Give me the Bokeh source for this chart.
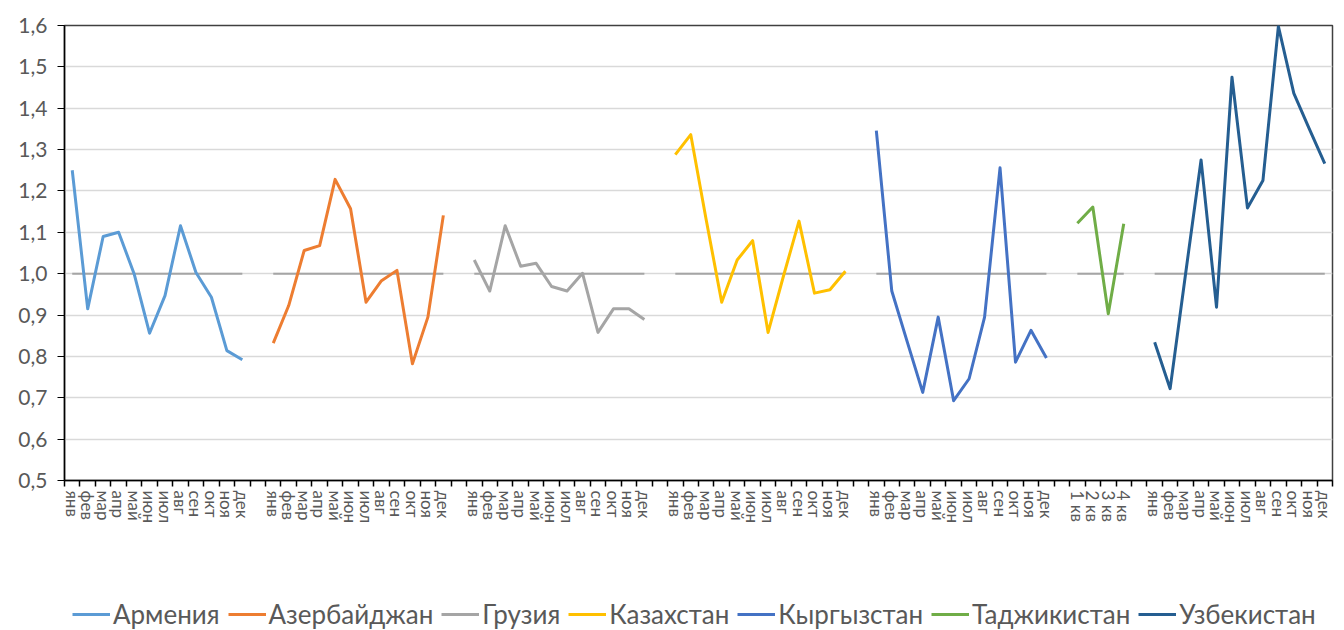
from bokeh.plotting import figure
from bokeh.layouts import column
from bokeh.models import (FixedTicker, CustomJSTickFormatter, Legend, LegendItem,
                          Range1d, ColumnDataSource)
from bokeh.embed import file_html
from bokeh.resources import INLINE

months = ["янв", "фев", "мар", "апр", "май", "июн", "июл", "авг", "сен", "окт", "ноя", "дек"]
quarters = ["1 кв", "2 кв", "3 кв", "4 кв"]

countries = ["Армения", "Азербайджан", "Грузия", "Казахстан", "Кыргызстан", "Таджикистан", "Узбекистан"]
colors = ["#5B9BD5", "#ED7D31", "#A5A5A5", "#FFC000", "#4472C4", "#70AD47", "#255E91"]

armenia = [1.25, 0.915, 1.09, 1.10, 1.00, 0.856, 0.947, 1.116, 1.003, 0.943, 0.814, 0.792]
azerbaijan = [0.832, 0.923, 1.056, 1.068, 1.228, 1.157, 0.931, 0.983, 1.008, 0.782, 0.895, 1.141]
georgia = [1.033, 0.958, 1.116, 1.018, 1.025, 0.969, 0.958, 1.001, 0.858, 0.915, 0.915, 0.889]
kazakhstan = [1.288, 1.336, 1.13, 0.931, 1.033, 1.08, 0.858, 0.995, 1.127, 0.953, 0.961, 1.006]
kyrgyzstan = [1.346, 0.958, 0.835, 0.713, 0.895, 0.693, 0.746, 0.895, 1.256, 0.786, 0.863, 0.796]
tajikistan = [1.122, 1.161, 0.903, 1.121]
uzbekistan = [0.834, 0.722, 1.0, 1.275, 0.919, 1.475, 1.159, 1.225, 1.598, 1.436, 1.35, 1.266]

series = [armenia, azerbaijan, georgia, kazakhstan, kyrgyzstan, tajikistan, uzbekistan]
labels_per = [months, months, months, months, months, quarters, months]
baseline = 1.0

# build slot positions (one empty slot between countries)
positions = []
overrides = {}
pos = 0
for vals, labs in zip(series, labels_per):
    xs = list(range(pos, pos + len(vals)))
    positions.append(xs)
    for x, l in zip(xs, labs):
        overrides[x] = l
    pos += len(vals) + 1
n_slots = pos - 1

p = figure(width=1344, height=590, output_backend="svg", toolbar_location=None,
           x_range=Range1d(-0.5, n_slots - 0.5), y_range=Range1d(0.5, 1.6),
           min_border_left=64, min_border_right=12, min_border_top=25, min_border_bottom=110)

p.background_fill_color = "white"
p.border_fill_color = "white"
p.outline_line_color = "#404040"
p.outline_line_width = 1.5

# grid
p.xgrid.visible = False
p.ygrid.ticker = FixedTicker(ticks=[0.6, 0.7, 0.8, 0.9, 1.0, 1.1, 1.2, 1.3, 1.4, 1.5])
p.ygrid.grid_line_color = "#D9D9D9"
p.ygrid.grid_line_width = 1.5

# y axis
p.yaxis.ticker = FixedTicker(ticks=[0.5, 0.6, 0.7, 0.8, 0.9, 1.0, 1.1, 1.2, 1.3, 1.4, 1.5, 1.6])
p.yaxis.formatter = CustomJSTickFormatter(code="return tick.toFixed(1).replace('.', ',');")
p.yaxis.axis_line_color = "black"
p.yaxis.axis_line_width = 1.5
p.yaxis.major_tick_line_color = "black"
p.yaxis.major_tick_out = 7
p.yaxis.major_tick_in = 0
p.yaxis.minor_tick_line_color = None
p.yaxis.major_label_text_font = "Lato"
p.yaxis.major_label_text_font_size = "21px"
p.yaxis.major_label_text_color = "#595959"
p.yaxis.major_label_standoff = 10

# x axis
centers = sorted(overrides.keys())
bounds = [k + 0.5 for k in range(-1, n_slots)]
p.xaxis.ticker = FixedTicker(ticks=centers, minor_ticks=bounds)
p.xaxis.major_label_overrides = overrides
p.xaxis.major_label_orientation = "vertical"
p.xaxis.axis_line_color = "black"
p.xaxis.axis_line_width = 1.5
p.xaxis.major_tick_line_color = None
p.xaxis.major_tick_out = 6
p.xaxis.major_tick_in = 0
p.xaxis.minor_tick_line_color = "black"
p.xaxis.minor_tick_line_width = 1.5
p.xaxis.minor_tick_out = 6
p.xaxis.minor_tick_in = 0
p.xaxis.major_label_text_font = "Lato"
p.xaxis.major_label_text_font_size = "17px"
p.xaxis.major_label_text_color = "#595959"
p.xaxis.major_label_standoff = 4

# baseline at 1.0 for each country group
x0 = [xs[0] for xs in positions]
x1 = [xs[-1] for xs in positions]
p.segment(x0=x0, y0=[baseline] * len(x0), x1=x1, y1=[baseline] * len(x0),
          line_color="#A5A5A5", line_width=2)

for col, xs, vals in zip(colors, positions, series):
    src = ColumnDataSource(dict(x=xs, y=vals))
    p.line("x", "y", source=src, line_color=col, line_width=3, line_join="round")

# legend strip below the chart (separate small figure; its series lie outside its view)
lg = figure(width=1344, height=40, output_backend="svg", toolbar_location=None,
            x_axis_type=None, y_axis_type=None,
            x_range=Range1d(-0.5, n_slots - 0.5), y_range=Range1d(-10, -9),
            min_border_left=64, min_border_right=12, min_border_top=0, min_border_bottom=0)
lg.outline_line_color = None
lg.xgrid.visible = False
lg.ygrid.visible = False
items = []
for name, col, xs, vals in zip(countries, colors, positions, series):
    r = lg.line(x=xs, y=vals, line_color=col, line_width=3)
    items.append(LegendItem(label=name, renderers=[r]))

legend = Legend(items=items, location=(8, 0), orientation="horizontal",
                label_text_font="Lato", label_text_font_size="26px",
                label_text_color="#595959", glyph_width=38, glyph_height=24,
                label_standoff=3, spacing=8, padding=0, margin=0,
                background_fill_alpha=0, border_line_color=None)
lg.add_layout(legend)

layout = column(p, lg, spacing=0)
open("out.html", "w").write(file_html(layout, INLINE))
